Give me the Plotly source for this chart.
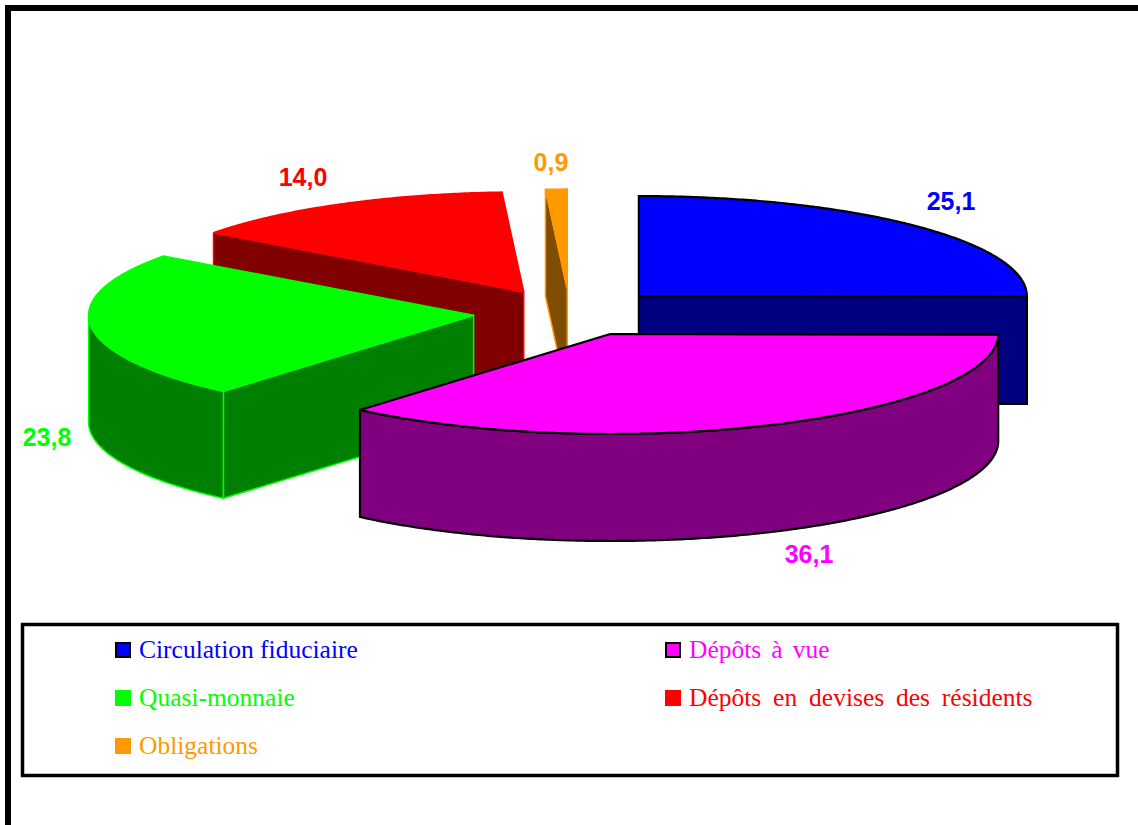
import math
import plotly.graph_objects as go

# ---- data ----
categories = ["Circulation fiduciaire", "Dépôts à vue", "Quasi-monnaie",
              "Dépôts en devises des résidents", "Obligations"]
values = [25.1, 36.1, 23.8, 14.0, 0.9]

# ---- styles ----
top_colors = ["#0000FF", "#FF00FF", "#00FF00", "#FF0000", "#FF9900"]
side_colors = ["#000080", "#800080", "#008000", "#800000", "#804C00"]
edge_colors = ["#000000", "#000000", "#00FF00", "#FF0000", "#FF9900"]
edge_widths = [2.2, 2.2, 1.5, 1.5, 1.5]
label_xy = [(951, 204), (809, 557), (47, 440), (303, 180), (551, 165)]
legend_marker_xy = [(123, 650), (673, 650), (123, 698), (673, 698), (123, 746)]
legend_text_x = [139, 689, 139, 689, 139]
legend_text_dy = 2
legend_word_gap = ["0px", "3.7px", "0px", "5.5px", "0px"]

# ---- projection ----
CX, CY = 570.0, 312.6
RX, RX_LEFT, RY = 388.0, 385.0, 100.0
DEPTH = 107.0
PULL_X, PULL_Y = 0.25, 0.235
TOTAL = sum(values)


def pt(center, deg):
    a = math.radians(deg)
    s = math.sin(a)
    return (center[0] + (RX if s >= 0 else RX_LEFT) * s, center[1] - RY * math.cos(a))


def arc(center, a0, a1):
    n = max(2, int(abs(a1 - a0) * 2))
    return [pt(center, a0 + (a1 - a0) * i / n) for i in range(n + 1)]


def down(points):
    return [(x, y + DEPTH) for x, y in points]


fig = go.Figure()


def poly(points, fill, line, width):
    pts = list(points) + [points[0]]
    fig.add_trace(go.Scatter(
        x=[p[0] for p in pts], y=[p[1] for p in pts], mode="lines",
        fill="toself", fillcolor=fill,
        line=dict(color=line, width=width, simplify=False),
        hoverinfo="skip", showlegend=False))


# angular spans and pulled centres
spans, acc = [], 0.0
for v in values:
    a0 = acc / TOTAL * 360
    acc += v
    spans.append((a0, acc / TOTAL * 360))
centers = []
for a0, a1 in spans:
    mid = math.radians((a0 + a1) / 2)
    centers.append((CX + PULL_X * RX * math.sin(mid), CY - PULL_Y * RY * math.cos(mid)))

# back-to-front painting order
for i in [4, 3, 0, 2, 1]:
    c = centers[i]
    a0, a1 = spans[i]
    fill, side, edge, w = top_colors[i], side_colors[i], edge_colors[i], edge_widths[i]
    if a0 > 180:  # leading cut face (rim at a0 to centre) faces the viewer
        p = [pt(c, a0), c]
        poly(p + down(p)[::-1], side, edge, w)
    if a1 < 180 and a1 > 90 - 1e-9:  # trailing cut face on the right side
        p = [c, pt(c, a1)]
        poly(p + down(p)[::-1], side, edge, w)
    # outer rim (front half only)
    lo, hi = max(a0, 90), min(a1, 270)
    if lo < hi:
        rim = arc(c, lo, hi)
        poly(rim + down(rim)[::-1], side, edge, w)
    # top face
    poly([c] + arc(c, a0, a1), fill, edge, w)

# data labels
for i, v in enumerate(values):
    fig.add_trace(go.Scatter(
        x=[label_xy[i][0]], y=[label_xy[i][1]], mode="text",
        text=[f"{v:.1f}".replace(".", ",")], textposition="middle center",
        textfont=dict(family="Liberation Sans", size=25, color=top_colors[i],
                      weight="bold"),
        hoverinfo="skip", showlegend=False))

# legend
for i, name in enumerate(categories):
    fig.add_trace(go.Scatter(
        x=[legend_marker_xy[i][0]], y=[legend_marker_xy[i][1]], mode="markers",
        marker=dict(symbol="square", size=14, color=top_colors[i],
                    line=dict(color=edge_colors[i], width=2)),
        hoverinfo="skip", showlegend=False))
    fig.add_trace(go.Scatter(
        x=[legend_text_x[i]], y=[legend_marker_xy[i][1] + legend_text_dy], mode="text",
        text=[name], textposition="middle right",
        textfont=dict(family="Liberation Serif", size=25.5, color=top_colors[i]),
        hoverinfo="skip", showlegend=False))

fig.update_layout(
    width=1138, height=825, margin=dict(l=0, r=0, t=0, b=0),
    paper_bgcolor="white", plot_bgcolor="white",
    xaxis=dict(range=[0, 1138], visible=False, fixedrange=True),
    yaxis=dict(range=[825, 0], visible=False, fixedrange=True),
    shapes=[
        dict(type="path", path="M 8 825 L 8 8 L 1138 8", xref="x", yref="y",
             line=dict(color="black", width=6)),
        dict(type="rect", x0=22.5, y0=624.5, x1=1117.5, y1=775.5, xref="x", yref="y",
             line=dict(color="black", width=3.5)),
    ],
)

gaps = dict(zip(categories, legend_word_gap))
post = (
    "document.documentElement.style.overflow='hidden';"
    "document.body.style.margin='0';"
    "var g=" + repr(gaps) + ";"
    "document.querySelectorAll('text').forEach(function(t){"
    "if(g[t.textContent]){t.style.wordSpacing=g[t.textContent];}});"
)
fig.write_html("out.html", post_script=post, config={"displayModeBar": False})
